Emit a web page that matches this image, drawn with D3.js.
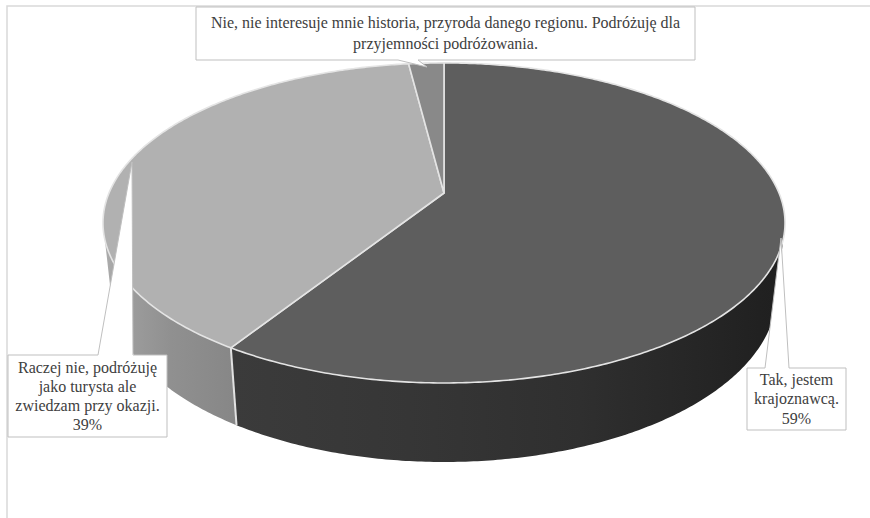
<!DOCTYPE html>
<html>
<head>
<meta charset="utf-8">
<script src="https://cdn.jsdelivr.net/npm/d3@7"></script>
<style>
  body { margin: 0; background: #fff; }
  svg { display: block; }
  text { font-family: "Liberation Serif", "Times New Roman", serif; font-size: 16px; fill: #404040; }
</style>
</head>
<body>
<svg id="chart" width="870" height="518"></svg>
<script>
// Survey answers (one per slice, clockwise from 12 o'clock)
const categories = [
  "Tak, jestem krajoznawcą.",
  "Raczej nie, podróżuję jako turysta ale zwiedzam przy okazji.",
  "Nie, nie interesuje mnie historia, przyroda danego regionu. Podróżuję dla przyjemności podróżowania."
];
const values = [59, 39, 2];
// Label text as wrapped in the callouts; the percentage is appended where shown
const labelLines = [
  ["Tak, jestem", "krajoznawcą."],
  ["Raczej nie, podróżuję", "jako turysta ale", "zwiedzam przy okazji."],
  ["Nie, nie interesuje mnie historia, przyroda danego regionu. Podróżuję dla", "przyjemności podróżowania."]
];
const showPercent = [true, true, false];

const topColors = ["#5e5e5e", "#b1b1b1", "#898989"];
const sideStops = [
  [[0, "#3c3c3c"], [0.19, "#3b3b3b"], [0.45, "#363636"], [0.7, "#2f2f2f"], [1, "#1f1f1f"]],
  [[0, "#adadad"], [0.04, "#9c9c9c"], [0.1, "#909090"], [0.19, "#878787"], [1, "#878787"]],
  [[0, "#7a7a7a"], [1, "#7a7a7a"]]
];

const svg = d3.select("#chart");
const W = 870, H = 518;

// chart frame
svg.append("rect")
  .attr("x", 7).attr("y", 6).attr("width", W).attr("height", H)
  .attr("fill", "#fff").attr("stroke", "#d9d9d9").attr("stroke-width", 1.5);

// perspective view of a tilted disc
const view = { cx: 444, cy: 193, A: 335, sinPhi: 0.461, k: 0.187, thick: 0.237 };
view.cosPhi = Math.sqrt(1 - view.sinPhi * view.sinPhi);
view.r = view.k / view.cosPhi;

// theta: 0 = far side, clockwise; z: 0 = top face, 1 = bottom face
function project(theta, z) {
  const c = Math.cos(theta), s = Math.sin(theta);
  const depth = 1 + view.r * c * view.cosPhi + view.r * view.thick * z * view.sinPhi;
  const up = c * view.sinPhi - view.thick * z * view.cosPhi;
  return [view.cx + view.A * s / depth, view.cy - view.A * up / depth];
}
function arcPoints(a0, a1, z) {
  const n = Math.max(2, Math.ceil(Math.abs(a1 - a0) / 0.01));
  return d3.range(n + 1).map(i => project(a0 + (a1 - a0) * i / n, z));
}
const line = d3.line();

const pie = d3.pie().sort(null).value(d => d).startAngle(0).endAngle(2 * Math.PI);
const arcs = pie(values);

const defs = svg.append("defs");
sideStops.forEach((stops, i) => {
  const g = defs.append("linearGradient").attr("id", "side" + i)
    .attr("gradientUnits", "userSpaceOnUse")
    .attr("x1", view.cx - 341).attr("x2", view.cx + 341).attr("y1", 0).attr("y2", 0);
  stops.forEach(([o, c]) => g.append("stop").attr("offset", o).attr("stop-color", c));
});

// visible part of the outer wall lies between the two silhouette angles
const visA = Math.acos(-view.k), visB = 2 * Math.PI - Math.acos(-view.k);
const pieG = svg.append("g");

arcs.forEach((a, i) => {
  const t0 = Math.max(a.startAngle, visA), t1 = Math.min(a.endAngle, visB);
  if (t1 <= t0) return;
  const pts = arcPoints(t0, t1, 0).concat(arcPoints(t1, t0, 1));
  pieG.append("path").attr("d", line(pts) + "Z").attr("fill", `url(#side${i})`);
});

// wall seams at slice boundaries on the visible front
arcs.forEach(a => {
  const t = a.startAngle;
  if (t > visA && t < visB) {
    pieG.append("path").attr("d", line([project(t, 0), project(t, 1)]))
      .attr("stroke", "#e2e2e2").attr("stroke-width", 2).attr("fill", "none");
  }
});

// top faces
arcs.forEach((a, i) => {
  const pts = [project(0, 0).map((v, j) => j ? view.cy : view.cx)].concat(arcPoints(a.startAngle, a.endAngle, 0));
  pieG.append("path").attr("d", line(pts) + "Z")
    .attr("fill", topColors[i])
    .attr("stroke", "#e4e4e4").attr("stroke-width", 1.6).attr("stroke-linejoin", "round");
});

// callouts: box with a wedge pointing at its slice
const callouts = [
  { box: [747, 368, 846, 430], edge: "top", base: [765, 789], tip: [781, 238], lineH: 19.5 },
  { box: [8, 355, 167, 437], edge: "top", base: [98, 133], tip: [132, 162], lineH: 19 },
  { box: [196, 7, 695, 60], edge: "bottom", base: [398, 418], tip: [427, 67], lineH: 21.5 }
];

callouts.forEach((c, i) => {
  const [x0, y0, x1, y1] = c.box;
  let d;
  if (c.edge === "top") {
    d = `M${x0},${y0}H${c.base[0]}L${c.tip[0]},${c.tip[1]}L${c.base[1]},${y0}H${x1}V${y1}H${x0}Z`;
  } else {
    d = `M${x0},${y0}H${x1}V${y1}H${c.base[1]}L${c.tip[0]},${c.tip[1]}L${c.base[0]},${y1}H${x0}Z`;
  }
  svg.append("path").attr("d", d).attr("fill", "#fff")
    .attr("stroke", "#bfbfbf").attr("stroke-width", 1);

  const lines = labelLines[i].slice();
  if (showPercent[i]) lines.push(d3.format(".0%")(arcs[i].value / d3.sum(values)));
  const midX = (x0 + x1) / 2, midY = (y0 + y1) / 2;
  const startY = midY - (lines.length - 1) * c.lineH / 2;
  const t = svg.append("text").attr("text-anchor", "middle");
  lines.forEach((s, j) => {
    t.append("tspan").attr("x", midX).attr("y", startY + j * c.lineH + 5).text(s);
  });
});
</script>
</body>
</html>
